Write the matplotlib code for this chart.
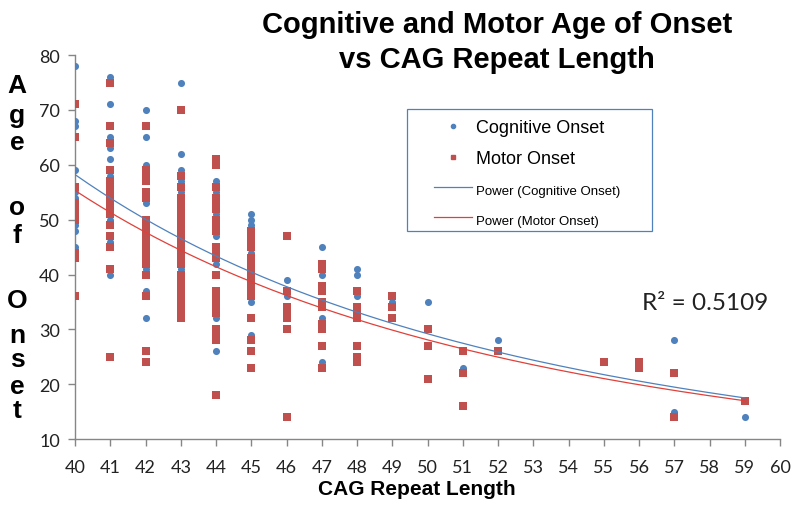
import numpy as np
import matplotlib
matplotlib.use("Agg")
import matplotlib.pyplot as plt
from matplotlib.lines import Line2D
from matplotlib.patches import Rectangle

# ---------------- data ----------------
cog_cag = ([40]*12 + [41]*11 + [42]*9 + [43]*9 + [44]*7 + [45]*7 + [46]*2 +
           [47]*5 + [48]*4 + [49] + [50] + [51]*2 + [52] + [57]*2 + [59])
cog_age = [78, 68, 67, 59, 55, 54, 53, 52, 50, 49, 48, 45,
           76, 71, 65, 63, 61, 58, 56, 54, 50, 46, 40,
           70, 65, 60, 53, 50, 48, 41, 37, 32,
           75, 62, 59, 57, 55, 52, 48, 45, 41,
           57, 55, 51, 47, 42, 32, 26,
           51, 50, 49, 44, 40, 35, 29,
           39, 36,
           45, 40, 35, 32, 24,
           41, 40, 36, 33,
           35,
           35,
           23, 26,
           28,
           28, 15,
           14]

mot_43 = [70, 58, 56] + list(range(54, 41, -1)) + list(range(40, 31, -1))
mot_cag = ([40]*10 + [41]*16 + [42]*19 + [43]*len(mot_43) + [44]*22 + [45]*16 +
           [46]*7 + [47]*10 + [48]*7 + [49]*3 + [50]*3 + [51]*3 + [52] + [55] +
           [56]*2 + [57]*2 + [59])
mot_age = ([71, 65, 56, 53, 52, 51, 50, 44, 43, 36,
            75, 67, 64, 59, 57, 56, 55, 54, 53, 52, 51, 49, 47, 45, 41, 25,
            67, 59, 58, 57, 55, 54, 50, 49, 48, 47, 46, 45, 44, 43, 42, 40, 36, 26, 24]
           + mot_43 +
           [61, 60, 56, 54, 53, 52, 50, 49, 48, 45, 44, 43, 40, 37, 36, 35, 34, 33, 30, 29, 28, 18,
            48, 47, 46, 45, 43, 42, 41, 40, 39, 38, 37, 36, 32, 28, 26, 23,
            47, 37, 34, 33, 32, 30, 14,
            42, 41, 38, 37, 35, 34, 31, 30, 27, 23,
            37, 34, 33, 32, 27, 25, 24,
            36, 34, 32,
            30, 27, 21,
            26, 22, 16,
            26,
            24,
            24, 23,
            22, 14,
            17])

# power trend lines: value at CAG 40 and exponent
cog_fit_at40, cog_fit_b = 58.2, -3.09
mot_fit_at40, mot_fit_b = 55.3, -3.035
fit_range = (40, 59)
r2_text = "R² = 0.5109"

x_ticks = list(range(40, 61))
y_ticks = list(range(10, 81, 10))

# ---------------- plot ----------------
BLUE = "#4F81BD"
RED = "#C0504D"
RED_LINE = "#E0403A"
AXC = "#868686"
W, H = 800, 510

fig = plt.figure(figsize=(8, 5.1), dpi=100)
ax = fig.add_axes([0.094, 0.137, 0.881, 0.753])

ax.scatter(cog_cag, cog_age, s=26, marker="o", color=BLUE, linewidths=0, zorder=3)
ax.scatter(mot_cag, mot_age, s=28, marker="s", color=RED, linewidths=0, zorder=4)

xf = np.linspace(fit_range[0], fit_range[1], 200)
cog_fit = cog_fit_at40 * (xf / 40.0) ** cog_fit_b
mot_fit = mot_fit_at40 * (xf / 40.0) ** mot_fit_b
ax.plot(xf, cog_fit, color=BLUE, lw=0.9, zorder=5)
ax.plot(xf, mot_fit, color=RED_LINE, lw=0.9, zorder=5)

ax.set_xlim(40, 60)
ax.set_ylim(10, 80)
ax.set_xticks(x_ticks)
ax.set_yticks(y_ticks)
for s in ["top", "right"]:
    ax.spines[s].set_visible(False)
for s in ["left", "bottom"]:
    ax.spines[s].set_color(AXC)
    ax.spines[s].set_linewidth(1.0)
ax.tick_params(axis="both", direction="out", length=5, color=AXC, width=1,
               labelsize=13, pad=6)
for lbl in ax.get_xticklabels() + ax.get_yticklabels():
    lbl.set_fontfamily("Lato")
    lbl.set_color("#222222")
ax.tick_params(axis="x", pad=9)

# Title
fig.text(0.621, 0.916, "Cognitive and Motor Age of Onset\nvs CAG Repeat Length",
         ha="center", va="center", fontsize=21, fontweight="bold",
         family="Liberation Sans", linespacing=1.33)

# x label
fig.text(0.521, 0.040, "CAG Repeat Length", ha="center", va="center",
         fontsize=15, fontweight="bold", family="Liberation Sans")

# stacked y label
letters = ["A", "g", "e", "o", "f", "O", "n", "s", "e", "t"]
baselines = [93, 123, 150, 215, 243, 308, 343, 367, 394, 418]
for ch, yb in zip(letters, baselines):
    fig.text(17 / W, 1 - yb / H, ch, ha="center", va="baseline",
             fontsize=19, fontweight="bold", family="Liberation Sans")

# R^2
ax.text(0.894, 0.357, r2_text, transform=ax.transAxes, ha="center", va="center",
        fontsize=17.5, family="Lato", color="#222222")

# Legend box
fig.patches.append(Rectangle((407 / W, 1 - 232 / H), 245 / W, 122 / H,
                             transform=fig.transFigure, facecolor="white",
                             edgecolor=BLUE, linewidth=0.9, zorder=6))

handles = [
    Line2D([], [], ls="none", marker="o", color=BLUE, markersize=3),
    Line2D([], [], ls="none", marker="s", color=RED, markersize=3.5),
    Line2D([], [], color=BLUE, lw=0.9),
    Line2D([], [], color=RED_LINE, lw=0.9),
]
labels = ["Cognitive Onset", "Motor Onset", "Power (Cognitive Onset)", "Power (Motor Onset)"]
leg = fig.legend(handles, labels, loc="upper left",
                 bbox_to_anchor=(434 / W, 1 - 120 / H),
                 frameon=False,
                 prop={"family": "Liberation Sans", "size": 13},
                 handlelength=2.1, handletextpad=0.2, labelspacing=0.78,
                 borderpad=0, borderaxespad=0)
leg.set_zorder(7)
for t in leg.get_texts()[2:]:
    t.set_fontsize(9.5)

fig.savefig("out.png", dpi=100)
